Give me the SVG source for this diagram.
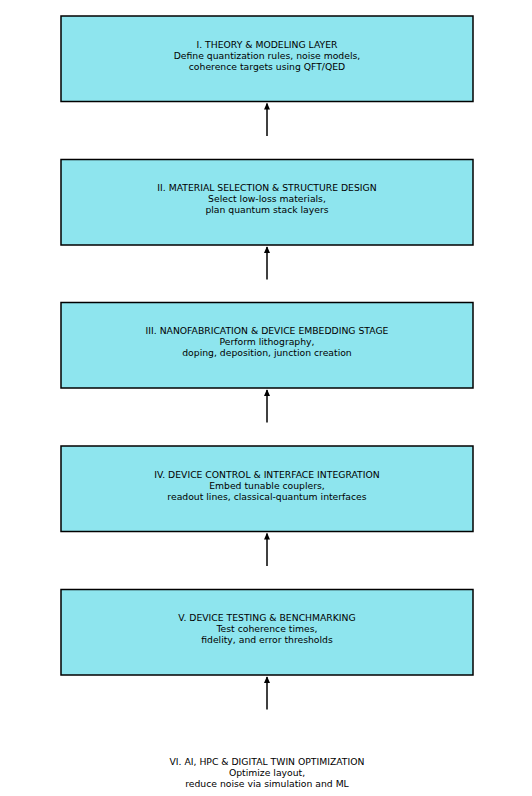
<svg xmlns="http://www.w3.org/2000/svg" width="532" height="796" viewBox="0 0 532 796">
<style>
.box{fill:#8ee5ee;stroke:#000;stroke-width:1.5}
.t{font-family:"DejaVu Sans",sans-serif;font-size:9.25px;text-anchor:middle;fill:#000}
.c{stroke:#000;stroke-width:1.5;fill:none;marker-end:url(#ah)}
</style>
<defs>
<marker id="ah" viewBox="0 0 10 10" refX="9" refY="5" markerWidth="4.5" markerHeight="4.5" orient="auto">
<path d="M0,0.5 L10,5 L0,9.5 Z" fill="#000"/>
</marker>
</defs>
<rect width="532" height="796" fill="#fff"/>
<g id="n1"><rect class="box" x="61" y="16" width="412" height="85.5"/>
<text class="t" x="267" y="47.5">I. THEORY &amp; MODELING LAYER</text>
<text class="t" x="267" y="58.5">Define quantization rules, noise models,</text>
<text class="t" x="267" y="69.5">coherence targets using QFT/QED</text></g>
<g id="n2"><rect class="box" x="61" y="159.5" width="412" height="85.5"/>
<text class="t" x="267" y="190.5">II. MATERIAL SELECTION &amp; STRUCTURE DESIGN</text>
<text class="t" x="267" y="201.5">Select low-loss materials,</text>
<text class="t" x="267" y="212.5">plan quantum stack layers</text></g>
<g id="n3"><rect class="box" x="61" y="302.5" width="412" height="85.5"/>
<text class="t" x="267" y="334">III. NANOFABRICATION &amp; DEVICE EMBEDDING STAGE</text>
<text class="t" x="267" y="345">Perform lithography,</text>
<text class="t" x="267" y="356">doping, deposition, junction creation</text></g>
<g id="n4"><rect class="box" x="61" y="446" width="412" height="85.5"/>
<text class="t" x="267" y="477.5">IV. DEVICE CONTROL &amp; INTERFACE INTEGRATION</text>
<text class="t" x="267" y="488.5">Embed tunable couplers,</text>
<text class="t" x="267" y="499.5">readout lines, classical-quantum interfaces</text></g>
<g id="n5"><rect class="box" x="61" y="589.5" width="412" height="85.5"/>
<text class="t" x="267" y="621">V. DEVICE TESTING &amp; BENCHMARKING</text>
<text class="t" x="267" y="632">Test coherence times,</text>
<text class="t" x="267" y="643">fidelity, and error thresholds</text></g>
<g id="n6">
<text class="t" x="267" y="764.5">VI. AI, HPC &amp; DIGITAL TWIN OPTIMIZATION</text>
<text class="t" x="267" y="775.5">Optimize layout,</text>
<text class="t" x="267" y="786.5">reduce noise via simulation and ML</text></g>
<g id="connectors">
<line class="c" x1="267" y1="136" x2="267" y2="103.5"/>
<line class="c" x1="267" y1="279.5" x2="267" y2="247"/>
<line class="c" x1="267" y1="422.5" x2="267" y2="390"/>
<line class="c" x1="267" y1="566" x2="267" y2="533.5"/>
<line class="c" x1="267" y1="709.5" x2="267" y2="677"/>
</g>
</svg>
